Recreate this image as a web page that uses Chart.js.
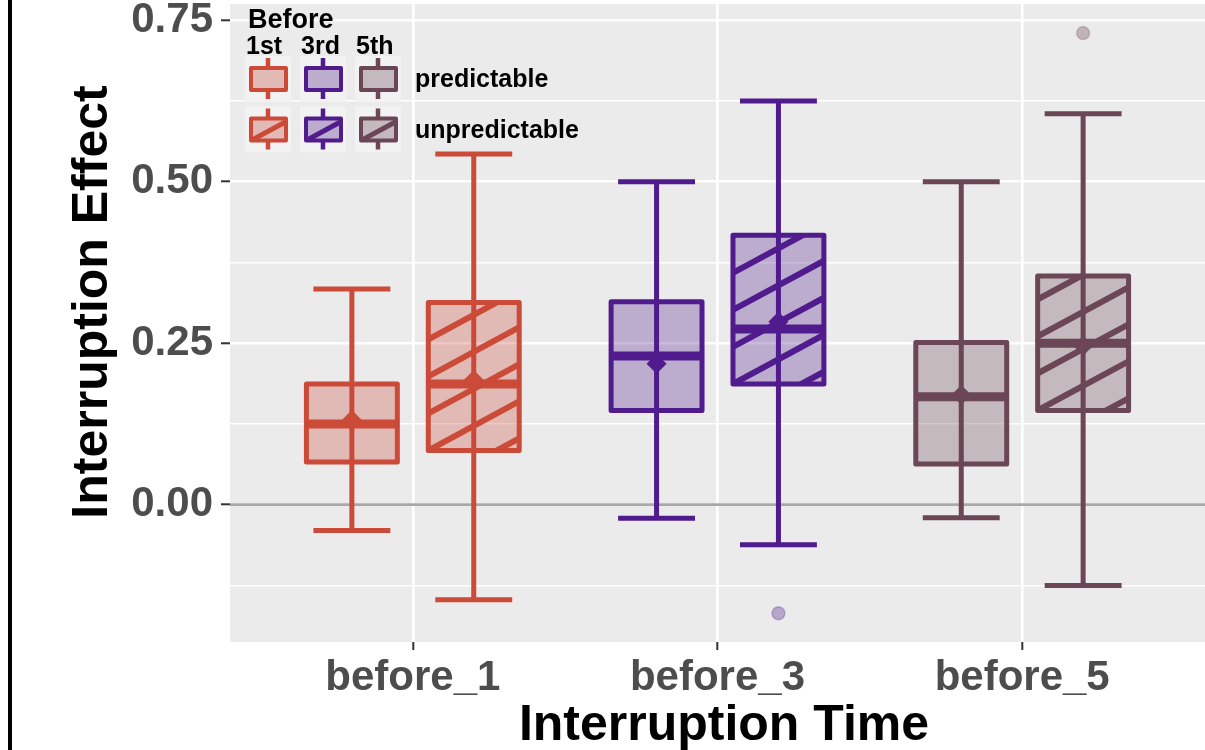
<!DOCTYPE html>
<html><head><meta charset="utf-8">
<script src="https://cdn.jsdelivr.net/npm/chart.js@4.4.1/dist/chart.umd.min.js"></script>
<style>html,body{margin:0;padding:0;background:#fff;} #wrap{width:1205px;height:750px;position:relative;}</style>
</head><body><div id="wrap"><canvas id="c"></canvas></div>
<script>
const categories = ['before_1', 'before_3', 'before_5'];
const groupNames = ['predictable', 'unpredictable'];
const legendTitle = 'Before';
const legendCols = ['1st', '3rd', '5th'];
const xTitle = 'Interruption Time';
const yTitle = 'Interruption Effect';
const yTicks = [-0.125, 0, 0.125, 0.25, 0.375, 0.5, 0.625, 0.75];
const yMajor = [0, 0.25, 0.5, 0.75];

// predictable
const predLow  = [-0.040, -0.021, -0.020];
const predQ1   = [0.066, 0.146, 0.063];
const predMed  = [0.125, 0.230, 0.167];
const predQ3   = [0.187, 0.314, 0.251];
const predHigh = [0.334, 0.500, 0.500];
const predMean = [0.131, 0.218, 0.170];
const predOut  = [[], [], []];
// unpredictable
const unpLow  = [-0.147, -0.062, -0.125];
const unpQ1   = [0.084, 0.187, 0.146];
const unpMed  = [0.187, 0.272, 0.250];
const unpQ3   = [0.313, 0.417, 0.354];
const unpHigh = [0.543, 0.625, 0.605];
const unpMean = [0.193, 0.283, 0.246];
const unpOut  = [[], [-0.168], [0.730]];

const catColors = ['#CB4A38', '#501B8C', '#6B4654'];
const FONT = '"Liberation Sans", Arial, sans-serif';

function rgba(hex, a) {
  const n = parseInt(hex.slice(1), 16);
  return `rgba(${(n >> 16) & 255},${(n >> 8) & 255},${n & 255},${a})`;
}

const stats = [
  {low: predLow, q1: predQ1, med: predMed, q3: predQ3, high: predHigh, mean: predMean, out: predOut, hatch: false},
  {low: unpLow, q1: unpQ1, med: unpMed, q3: unpQ3, high: unpHigh, mean: unpMean, out: unpOut, hatch: true}
];

const datasets = stats.map((s, d) => ({
  label: groupNames[d],
  data: categories.map((c, i) => ({x: i + 1, y: [s.q1[i], s.q3[i]]})),
  backgroundColor: catColors.map(c => rgba(c, 0.3)),
  borderWidth: 0,
  barPercentage: 0.746,
  categoryPercentage: 0.8
}));

function hatchRect(ctx, x, y, w, h, color, spacing, slope, lw) {
  ctx.save();
  ctx.beginPath();
  ctx.rect(x, y, w, h);
  ctx.clip();
  ctx.strokeStyle = color;
  ctx.lineWidth = lw;
  ctx.lineCap = 'butt';
  const yb = y + h;
  const n = Math.ceil((h + slope * w) / spacing) + 2;
  for (let k = -3; k <= n; k++) {
    const y0 = yb - k * spacing;
    ctx.beginPath();
    ctx.moveTo(x - 5, y0 + slope * 5);
    ctx.lineTo(x + w + 5, y0 - slope * (w + 5));
    ctx.stroke();
  }
  ctx.restore();
}

const boxPlugin = {
  id: 'boxPlugin',
  beforeDraw(chart) {
    const {ctx, chartArea: a} = chart;
    ctx.save();
    ctx.fillStyle = '#EBEBEB';
    ctx.fillRect(a.left, a.top, a.right - a.left, a.bottom - a.top);
    ctx.restore();
  },
  beforeDatasetsDraw(chart) {
    const {ctx, chartArea: a} = chart;
    const ys = chart.scales.y;
    ctx.save();
    const y0 = ys.getPixelForValue(0);
    ctx.strokeStyle = '#A8A8A8';
    ctx.lineWidth = 2.8;
    ctx.beginPath();
    ctx.moveTo(a.left, y0); ctx.lineTo(a.right, y0); ctx.stroke();
    stats.forEach((s, d) => {
      const meta = chart.getDatasetMeta(d);
      meta.data.forEach((bar, i) => {
        const x = bar.x, w = bar.width;
        const yl = ys.getPixelForValue(s.low[i]);
        const yh = ys.getPixelForValue(s.high[i]);
        const cap = w * 0.846;
        ctx.strokeStyle = catColors[i];
        ctx.lineWidth = 5;
        ctx.lineCap = 'butt';
        ctx.beginPath();
        ctx.moveTo(x, yl); ctx.lineTo(x, yh);
        ctx.moveTo(x - cap / 2, yl); ctx.lineTo(x + cap / 2, yl);
        ctx.moveTo(x - cap / 2, yh); ctx.lineTo(x + cap / 2, yh);
        ctx.stroke();
      });
    });
    ctx.restore();
  },
  afterDatasetsDraw(chart) {
    const {ctx} = chart;
    const ys = chart.scales.y;
    ctx.save();
    stats.forEach((s, d) => {
      const meta = chart.getDatasetMeta(d);
      meta.data.forEach((bar, i) => {
        const col = catColors[i];
        const x = bar.x, w = bar.width;
        const yt = ys.getPixelForValue(s.q3[i]);
        const yb = ys.getPixelForValue(s.q1[i]);
        const left = x - w / 2;
        if (s.hatch) hatchRect(ctx, left, yt, w, yb - yt, col, 37, 0.54, 6);
        ctx.strokeStyle = col;
        ctx.lineWidth = 5;
        ctx.lineJoin = 'round';
        ctx.strokeRect(left, yt, w, yb - yt);
        const ym = ys.getPixelForValue(s.med[i]);
        ctx.lineWidth = 9;
        ctx.lineCap = 'butt';
        ctx.beginPath();
        ctx.moveTo(left, ym); ctx.lineTo(left + w, ym); ctx.stroke();
        const yMean = ys.getPixelForValue(s.mean[i]);
        const r = 10;
        ctx.fillStyle = col;
        ctx.beginPath();
        ctx.moveTo(x, yMean - r); ctx.lineTo(x + r, yMean); ctx.lineTo(x, yMean + r); ctx.lineTo(x - r, yMean);
        ctx.closePath(); ctx.fill();
        s.out[i].forEach(v => {
          const yo = ys.getPixelForValue(v);
          ctx.beginPath();
          ctx.arc(x, yo, 6.5, 0, Math.PI * 2);
          ctx.fillStyle = rgba(col, 0.33);
          ctx.fill();
          ctx.lineWidth = 1.5;
          ctx.strokeStyle = rgba(col, 0.25);
          ctx.stroke();
        });
      });
    });
    ctx.restore();
  },
  afterDraw(chart) {
    const {ctx} = chart;
    ctx.save();
    ctx.fillStyle = '#000';
    ctx.fillRect(8, 0, 4, 750);
    ctx.fillStyle = '#000';
    ctx.font = `bold 50px ${FONT}`;
    ctx.textAlign = 'center';
    ctx.textBaseline = 'alphabetic';
    ctx.fillText(xTitle, 724, 740);
    ctx.save();
    ctx.translate(107, 302);
    ctx.rotate(-Math.PI / 2);
    ctx.fillText(yTitle, 0, 0);
    ctx.restore();
    const keyX = [245, 300, 355], keyY = [56, 106.5], keyS = 46;
    ctx.textAlign = 'left';
    ctx.font = `bold 27px ${FONT}`;
    ctx.fillText(legendTitle, 248, 28);
    ctx.font = `bold 25px ${FONT}`;
    legendCols.forEach((t, c) => ctx.fillText(t, keyX[c] + 1, 54));
    groupNames.forEach((g, r) => ctx.fillText(g, 415, keyY[r] + 31));
    for (let r = 0; r < 2; r++) {
      for (let c = 0; c < 3; c++) {
        const kx = keyX[c], ky = keyY[r], col = catColors[c];
        ctx.fillStyle = '#F2F2F2';
        ctx.fillRect(kx, ky, keyS, keyS);
        const bx = kx + 6, by = ky + 12, bw = 35, bh = 22, cx = kx + keyS / 2;
        ctx.strokeStyle = col;
        ctx.lineWidth = 4.5;
        ctx.lineCap = 'butt';
        ctx.beginPath();
        ctx.moveTo(cx, ky + 2); ctx.lineTo(cx, by);
        ctx.moveTo(cx, by + bh); ctx.lineTo(cx, ky + 43);
        ctx.stroke();
        ctx.fillStyle = '#EBEBEB';
        ctx.fillRect(bx, by, bw, bh);
        ctx.fillStyle = rgba(col, 0.3);
        ctx.fillRect(bx, by, bw, bh);
        if (r === 1) hatchRect(ctx, bx, by, bw, bh, col, 37, 0.54, 5);
        ctx.strokeStyle = col;
        ctx.lineWidth = 4;
        ctx.lineJoin = 'round';
        ctx.strokeRect(bx, by, bw, bh);
      }
    }
    ctx.restore();
  }
};

new Chart(document.getElementById('c'), {
  type: 'bar',
  data: {datasets},
  options: {
    responsive: true,
    maintainAspectRatio: false,
    animation: false,
    layout: {padding: {top: 4, left: 0, right: 0, bottom: 0}},
    plugins: {legend: {display: false}, tooltip: {enabled: false}},
    scales: {
      x: {
        type: 'linear',
        min: 0.4, max: 3.6,
        offset: false,
        afterBuildTicks(scale) { scale.ticks = categories.map((c, i) => ({value: i + 1})); },
        afterFit(scale) { scale.height = 108; scale.paddingLeft = 0; scale.paddingRight = 0; },
        grid: {offset: false, color: '#FFFFFF', lineWidth: 2.6, tickColor: '#333333', tickLength: 8, tickWidth: 2},
        border: {display: false},
        ticks: {
          callback: (v) => categories[Math.round(v) - 1],
          font: {family: FONT, size: 42, weight: 'bold'},
          color: '#4D4D4D',
          padding: 3,
          maxRotation: 0,
          autoSkip: false
        }
      },
      y: {
        type: 'linear',
        min: -0.2125, max: 0.775,
        afterBuildTicks(scale) { scale.ticks = yTicks.map(v => ({value: v})); },
        afterFit(scale) { scale.width = 230; scale.paddingTop = 0; scale.paddingBottom = 0; },
        grid: {
          color: '#FFFFFF',
          lineWidth: (ctx) => yMajor.includes(ctx.tick.value) ? 2.6 : 1.4,
          tickColor: (ctx) => yMajor.includes(ctx.tick.value) ? '#333333' : 'rgba(0,0,0,0)',
          tickLength: 9,
          tickWidth: 2
        },
        border: {display: false},
        ticks: {
          callback: (v) => yMajor.includes(v) ? v.toFixed(2) : '',
          font: {family: FONT, size: 42, weight: 'bold'},
          color: '#4D4D4D',
          padding: 8,
          autoSkip: false
        }
      }
    }
  },
  plugins: [boxPlugin]
});
</script></body></html>
